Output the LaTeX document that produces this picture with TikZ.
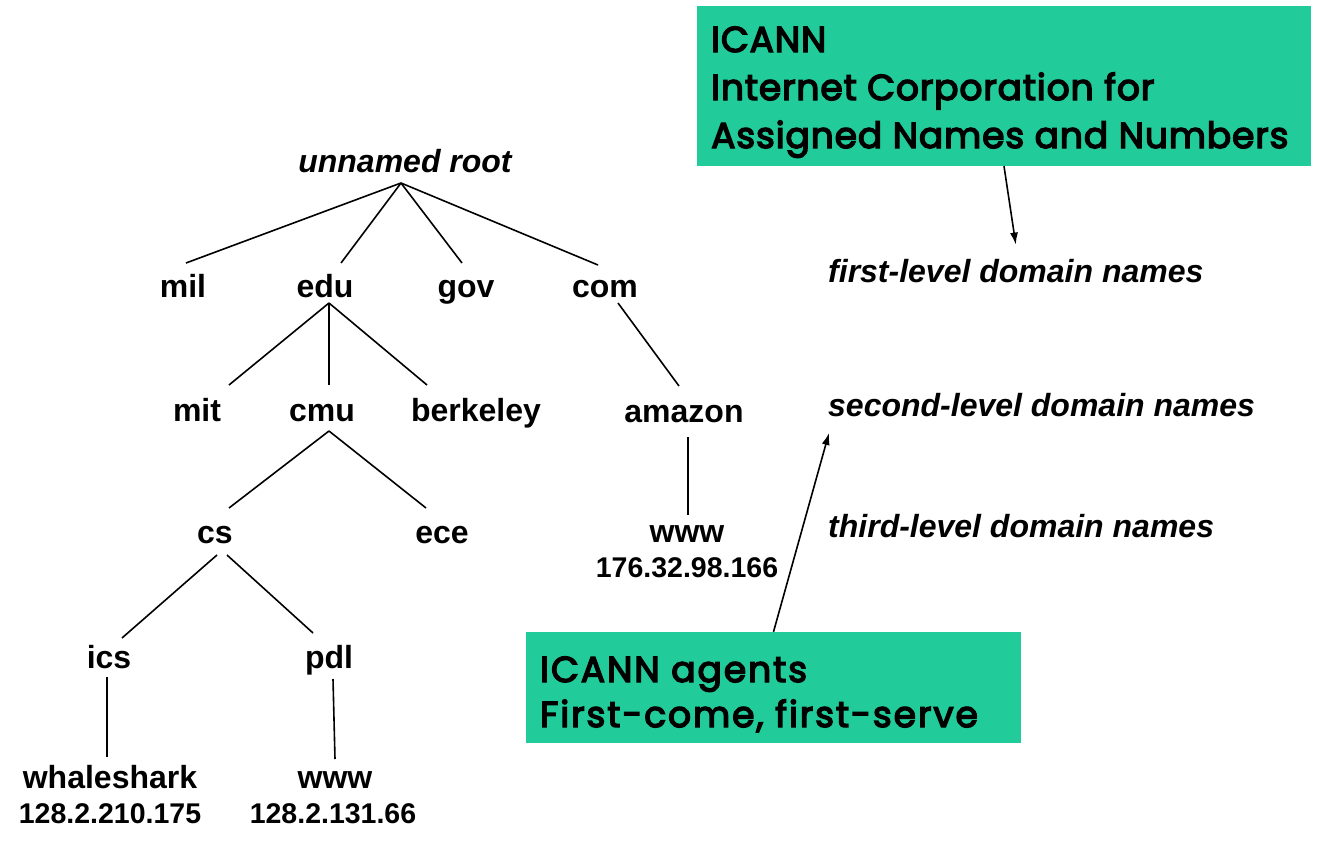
\documentclass[tikz,border=0pt]{standalone}
\usepackage{fontspec}
\setmainfont{Liberation Sans}
\newfontfamily\comicfont{Poppins}[FakeBold=4,LetterSpace=2.5]
\newfontfamily\comicwide{Poppins}[FakeBold=4,LetterSpace=5.5]
\usetikzlibrary{arrows.meta,calc}
\definecolor{icanngreen}{RGB}{33,204,154}
\begin{document}
\begin{tikzpicture}[x=1pt,y=-1pt,
  lbl/.style={anchor=base,inner sep=0pt,font=\fontsize{32}{38}\selectfont\bfseries},
  ipl/.style={anchor=base,inner sep=0pt,font=\fontsize{28.5}{34}\selectfont\bfseries},
  lvl/.style={anchor=base west,inner sep=0pt,font=\fontsize{32}{38}\selectfont\bfseries\itshape},
  gbox/.style={fill=icanngreen,draw=none,inner sep=0pt},
  gtxt/.style={anchor=base west,inner sep=0pt,font=\comicfont\fontsize{36}{40}\selectfont},
  gtxtb/.style={anchor=base west,inner sep=0pt,font=\comicwide\fontsize{36}{40}\selectfont},
  edge/.style={line width=1.6pt,black},
  arr/.style={line width=1.6pt,black,-{Latex[length=12pt,width=8pt]}}]
\useasboundingbox (0,0) rectangle (1318,846);
% green boxes
\node[gbox,minimum width=614pt,minimum height=160pt] (icann) at (1004,86) {};
\node[gtxt] (icannA) at (711,52) {ICANN};
\node[gtxt] (icannB) at (711,100) {Internet Corporation for};
\node[gtxt] (icannC) at (711,148) {Assigned Names and Numbers};
\node[gbox,minimum width=495pt,minimum height=111pt] (agents) at (773.5,687.5) {};
\node[gtxtb] (agentsA) at (540,682) {ICANN agents};
\node[gtxtb] (agentsB) at (540,727) {First-come, first-serve};
% level labels
\node[lvl] (first) at (828,282) {first-level domain names};
\node[lvl] (second) at (828,416) {second-level domain names};
\node[lvl] (third) at (828,537) {third-level domain names};
% tree nodes
\node[lbl,font=\fontsize{32}{38}\selectfont\bfseries\itshape] (root) at (405,172) {unnamed root};
\node[lbl] (mil) at (183,297) {mil};
\node[lbl] (edu) at (325,297) {edu};
\node[lbl] (gov) at (466,297) {gov};
\node[lbl] (com) at (605,297) {com};
\node[lbl] (mit) at (197,421) {mit};
\node[lbl] (cmu) at (322,421) {cmu};
\node[lbl] (berk) at (476,421) {berkeley};
\node[lbl] (amazon) at (684,422) {amazon};
\node[lbl] (cs) at (215,543) {cs};
\node[lbl] (ece) at (442,543) {ece};
\node[lbl] (wwwa) at (687,542) {www};
\node[ipl] (ipa) at (687,577) {176.32.98.166};
\node[lbl] (ics) at (109,668) {ics};
\node[lbl] (pdl) at (329,668) {pdl};
\node[lbl] (whale) at (110,788) {whaleshark};
\node[lbl] (wwwp) at (335,788) {www};
\node[ipl] (ipw) at (110,823) {128.2.210.175};
\node[ipl] (ipp) at (333,823) {128.2.131.66};
% tree edges
\draw[edge] ($(root.base)+(-4,11)$) -- ($(mil.base)+(3,-34)$);
\draw[edge] ($(root.base)+(-4,11)$) -- ($(edu.base)+(16,-34)$);
\draw[edge] ($(root.base)+(-4,11)$) -- ($(gov.base)+(-4,-34)$);
\draw[edge] ($(root.base)+(-4,11)$) -- ($(com.base)+(-7,-32)$);
\draw[edge] ($(edu.base)+(4,6)$) -- ($(mit.base)+(32,-36)$);
\draw[edge] ($(edu.base)+(4,6)$) -- ($(cmu.base)+(7,-36)$);
\draw[edge] ($(edu.base)+(4,6)$) -- ($(berk.base)+(-49,-36)$);
\draw[edge] ($(cmu.base)+(7,10)$) -- ($(cs.base)+(14,-35)$);
\draw[edge] ($(cmu.base)+(7,10)$) -- ($(ece.base)+(-16,-35)$);
\draw[edge] ($(com.base)+(13,6)$) -- ($(amazon.base)+(-5,-36)$);
\draw[edge] ($(amazon.base)+(4,15)$) -- ($(wwwa.base)+(1,-27)$);
\draw[edge] ($(cs.base)+(2,12)$) -- ($(ics.base)+(13,-30)$);
\draw[edge] ($(cs.base)+(12,12)$) -- ($(pdl.base)+(-16,-35)$);
\draw[edge] ($(ics.base)+(-2,9)$) -- ($(whale.base)+(-3,-31)$);
\draw[edge] ($(pdl.base)+(4,11)$) -- ($(wwwp.base)+(0,-29)$);
% arrows
\draw[arr] (icann.south) -- ($(first.north)+(0,-14)$);
\draw[arr] (agents.north) -- ($(second.base west)+(1,17)$);
\end{tikzpicture}
\end{document}
